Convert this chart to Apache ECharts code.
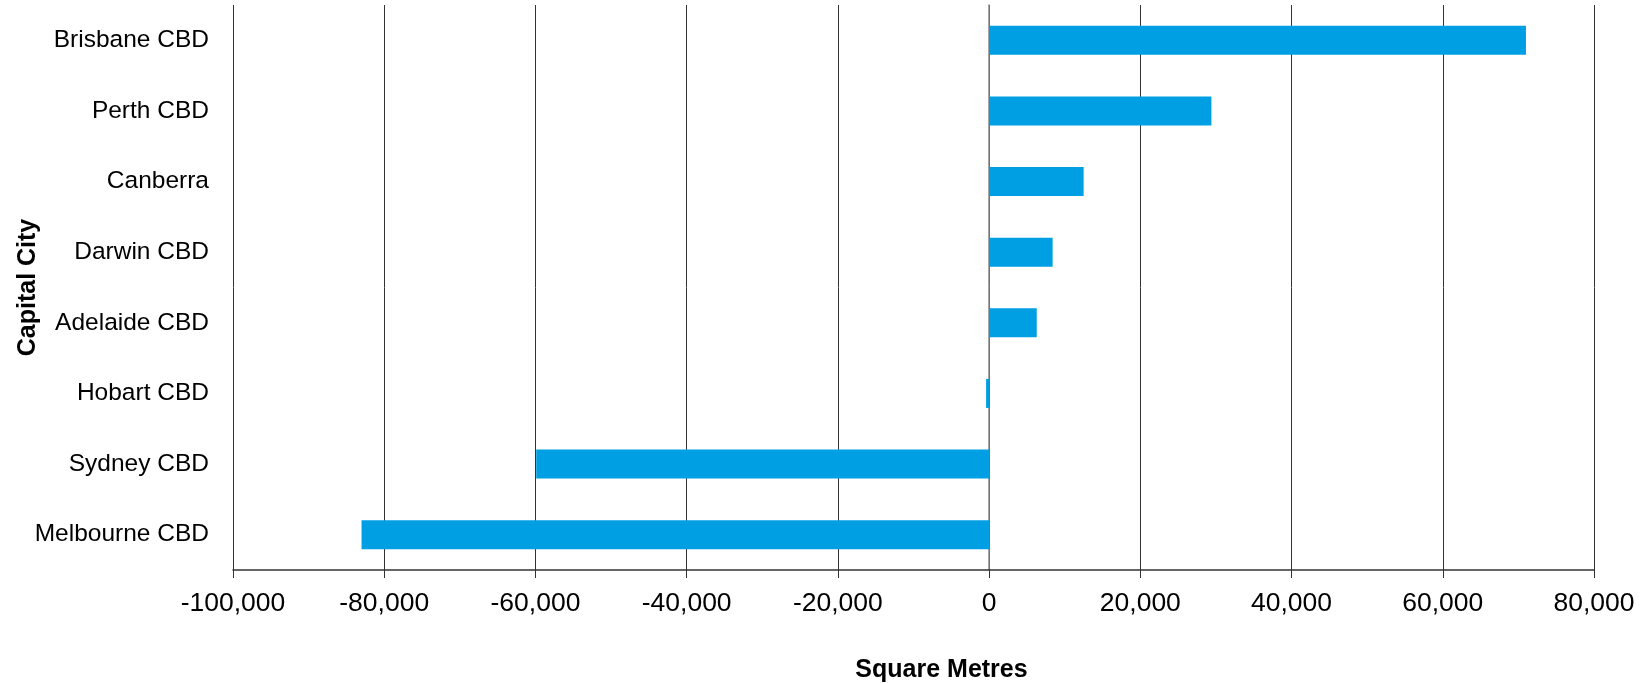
<!DOCTYPE html>
<html>
<head>
<meta charset="utf-8">
<script src="https://cdn.jsdelivr.net/npm/echarts@6/dist/echarts.min.js"></script>
<style>
html,body{margin:0;padding:0;background:#fff;}
#chart{width:1652px;height:683px;}
</style>
</head>
<body>
<div id="chart"></div>
<script>
const categories = ["Brisbane CBD", "Perth CBD", "Canberra", "Darwin CBD", "Adelaide CBD", "Hobart CBD", "Sydney CBD", "Melbourne CBD"];
const values = [71000, 29400, 12500, 8400, 6300, -400, -59900, -83000];
const xMin = -100000, xMax = 80000, xStep = 20000;
const xName = "Square Metres";
const yName = "Capital City";

const FONT = '"Liberation Sans", Arial, sans-serif';
const chart = echarts.init(document.getElementById('chart'));
chart.setOption({
  animation: false,
  backgroundColor: '#ffffff',
  grid: { left: 233, right: 58, top: 5, bottom: 113, containLabel: false, outerBoundsMode: 'none' },
  xAxis: {
    type: 'value', min: xMin, max: xMax, interval: xStep,
    name: xName, nameLocation: 'middle', nameGap: 88,
    nameTextStyle: { fontFamily: FONT, fontSize: 25, fontWeight: 'bold', color: '#000', padding: [0, 0, 0, 56] },
    axisLine: { show: true, onZero: false, lineStyle: { color: '#333', width: 1.5 } },
    axisTick: { show: true, length: 8, lineStyle: { color: '#333', width: 1 } },
    axisLabel: { fontFamily: FONT, fontSize: 26.5, color: '#000', margin: 20,
      formatter: v => v.toLocaleString('en-US') },
    splitLine: { show: true, lineStyle: { color: '#333', width: 1 } }
  },
  yAxis: {
    type: 'category', data: categories, inverse: true,
    name: yName, nameLocation: 'middle', nameGap: 192, nameRotate: 90, nameMoveOverlap: false,
    nameTextStyle: { fontFamily: FONT, fontSize: 25, fontWeight: 'bold', color: '#000' },
    axisLine: { show: true, lineStyle: { color: '#888', width: 1.5 } },
    axisTick: { show: false },
    axisLabel: { fontFamily: FONT, fontSize: 24.5, color: '#000', margin: 24 },
    splitLine: { show: false }
  },
  series: [{
    type: 'bar', data: values, barWidth: 29,
    itemStyle: { color: '#009FE3' }
  }]
});
</script>
</body>
</html>
